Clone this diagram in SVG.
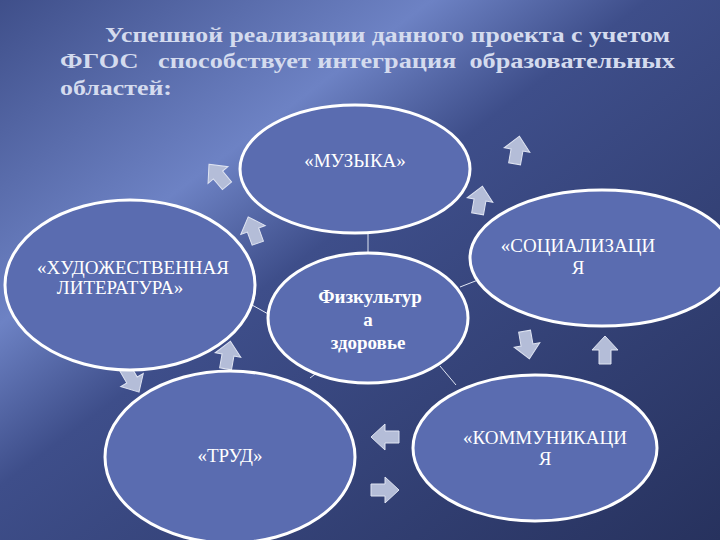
<svg xmlns="http://www.w3.org/2000/svg" width="720" height="540" viewBox="0 0 720 540">
<defs>
<linearGradient id="bg" x1="0" y1="0" x2="1" y2="1">
<stop offset="0" stop-color="#3f4f8a"/><stop offset="0.3" stop-color="#6d82c4"/><stop offset="0.45" stop-color="#3e4e8a"/><stop offset="1" stop-color="#27325e"/>
</linearGradient>
<path id="arr" d="M0,-14 L13,0 L6,0 L6,14 L-6,14 L-6,0 L-13,0 Z"/>
<style>
.n{fill:#5a6cb0;stroke:#fff;stroke-width:3}
.t{font-family:'Liberation Serif','Times New Roman',serif;font-size:19px;fill:#fff;text-anchor:middle}
.h{font-family:'Liberation Serif','Times New Roman',serif;font-weight:bold;font-size:22px;fill:#d4dbee}
.a{fill:#b4bdd8;stroke:#dfe4f2;stroke-width:1}
.c line{stroke:#e0e6f4;stroke-width:1}
</style>
</defs>
<rect width="720" height="540" fill="url(#bg)"/>
<g id="title">
<text class="h" x="105" y="42" textLength="565" lengthAdjust="spacingAndGlyphs">Успешной реализации данного проекта  с учетом</text>
<text class="h" x="60" y="68" xml:space="preserve" textLength="615" lengthAdjust="spacingAndGlyphs">ФГОС   способствует интеграция  образовательных</text>
<text class="h" x="60" y="95" textLength="112" lengthAdjust="spacingAndGlyphs">областей:</text>
</g>
<g class="c">
<line x1="368" y1="232" x2="368" y2="253"/>
<line x1="460" y1="287" x2="478" y2="280"/>
<line x1="252" y1="305" x2="270" y2="315"/>
<line x1="310" y1="378" x2="318" y2="372"/>
<line x1="440" y1="366" x2="456" y2="385"/>
</g>
<g id="arrows">
<use href="#arr" class="a" transform="translate(218,175) rotate(-40)"/>
<use href="#arr" class="a" transform="translate(253,230) rotate(-20)"/>
<use href="#arr" class="a" transform="translate(517,150) rotate(10)"/>
<use href="#arr" class="a" transform="translate(480,200) rotate(10)"/>
<use href="#arr" class="a" transform="translate(228,355) rotate(10)"/>
<use href="#arr" class="a" transform="translate(132,380) rotate(150)"/>
<use href="#arr" class="a" transform="translate(527,345) rotate(170)"/>
<use href="#arr" class="a" transform="translate(605,350) rotate(0)"/>
<use href="#arr" class="a" transform="translate(385,437) rotate(-90)"/>
<use href="#arr" class="a" transform="translate(385,490) rotate(90)"/>
</g>
<g id="music"><ellipse class="n" cx="355" cy="169" rx="115" ry="64"/><text class="t" x="355" y="167">«МУЗЫКА»</text></g>
<g id="social"><ellipse class="n" cx="602" cy="258" rx="132" ry="68"/><text class="t" x="578" y="252">«СОЦИАЛИЗАЦИ</text><text class="t" x="578" y="274">Я</text></g>
<g id="lit"><ellipse class="n" cx="130" cy="285" rx="125" ry="85"/><text class="t" x="133" y="274" font-size="15">«ХУДОЖЕСТВЕННАЯ</text><text class="t" x="120" y="294" font-size="15">ЛИТЕРАТУРА»</text></g>
<g id="fiz"><ellipse class="n" cx="368" cy="318" rx="100" ry="65"/>
<text class="t" x="370" y="303" font-weight="bold">Физкультур</text><text class="t" x="368" y="326" font-weight="bold">а</text><text class="t" x="368" y="349" font-weight="bold">здоровье</text></g>
<g id="trud"><ellipse class="n" cx="230" cy="457" rx="125" ry="86"/><text class="t" x="230" y="462">«ТРУД»</text></g>
<g id="komm"><ellipse class="n" cx="535" cy="448" rx="122" ry="73"/><text class="t" x="545" y="444">«КОММУНИКАЦИ</text><text class="t" x="545" y="465">Я</text></g>
</svg>
